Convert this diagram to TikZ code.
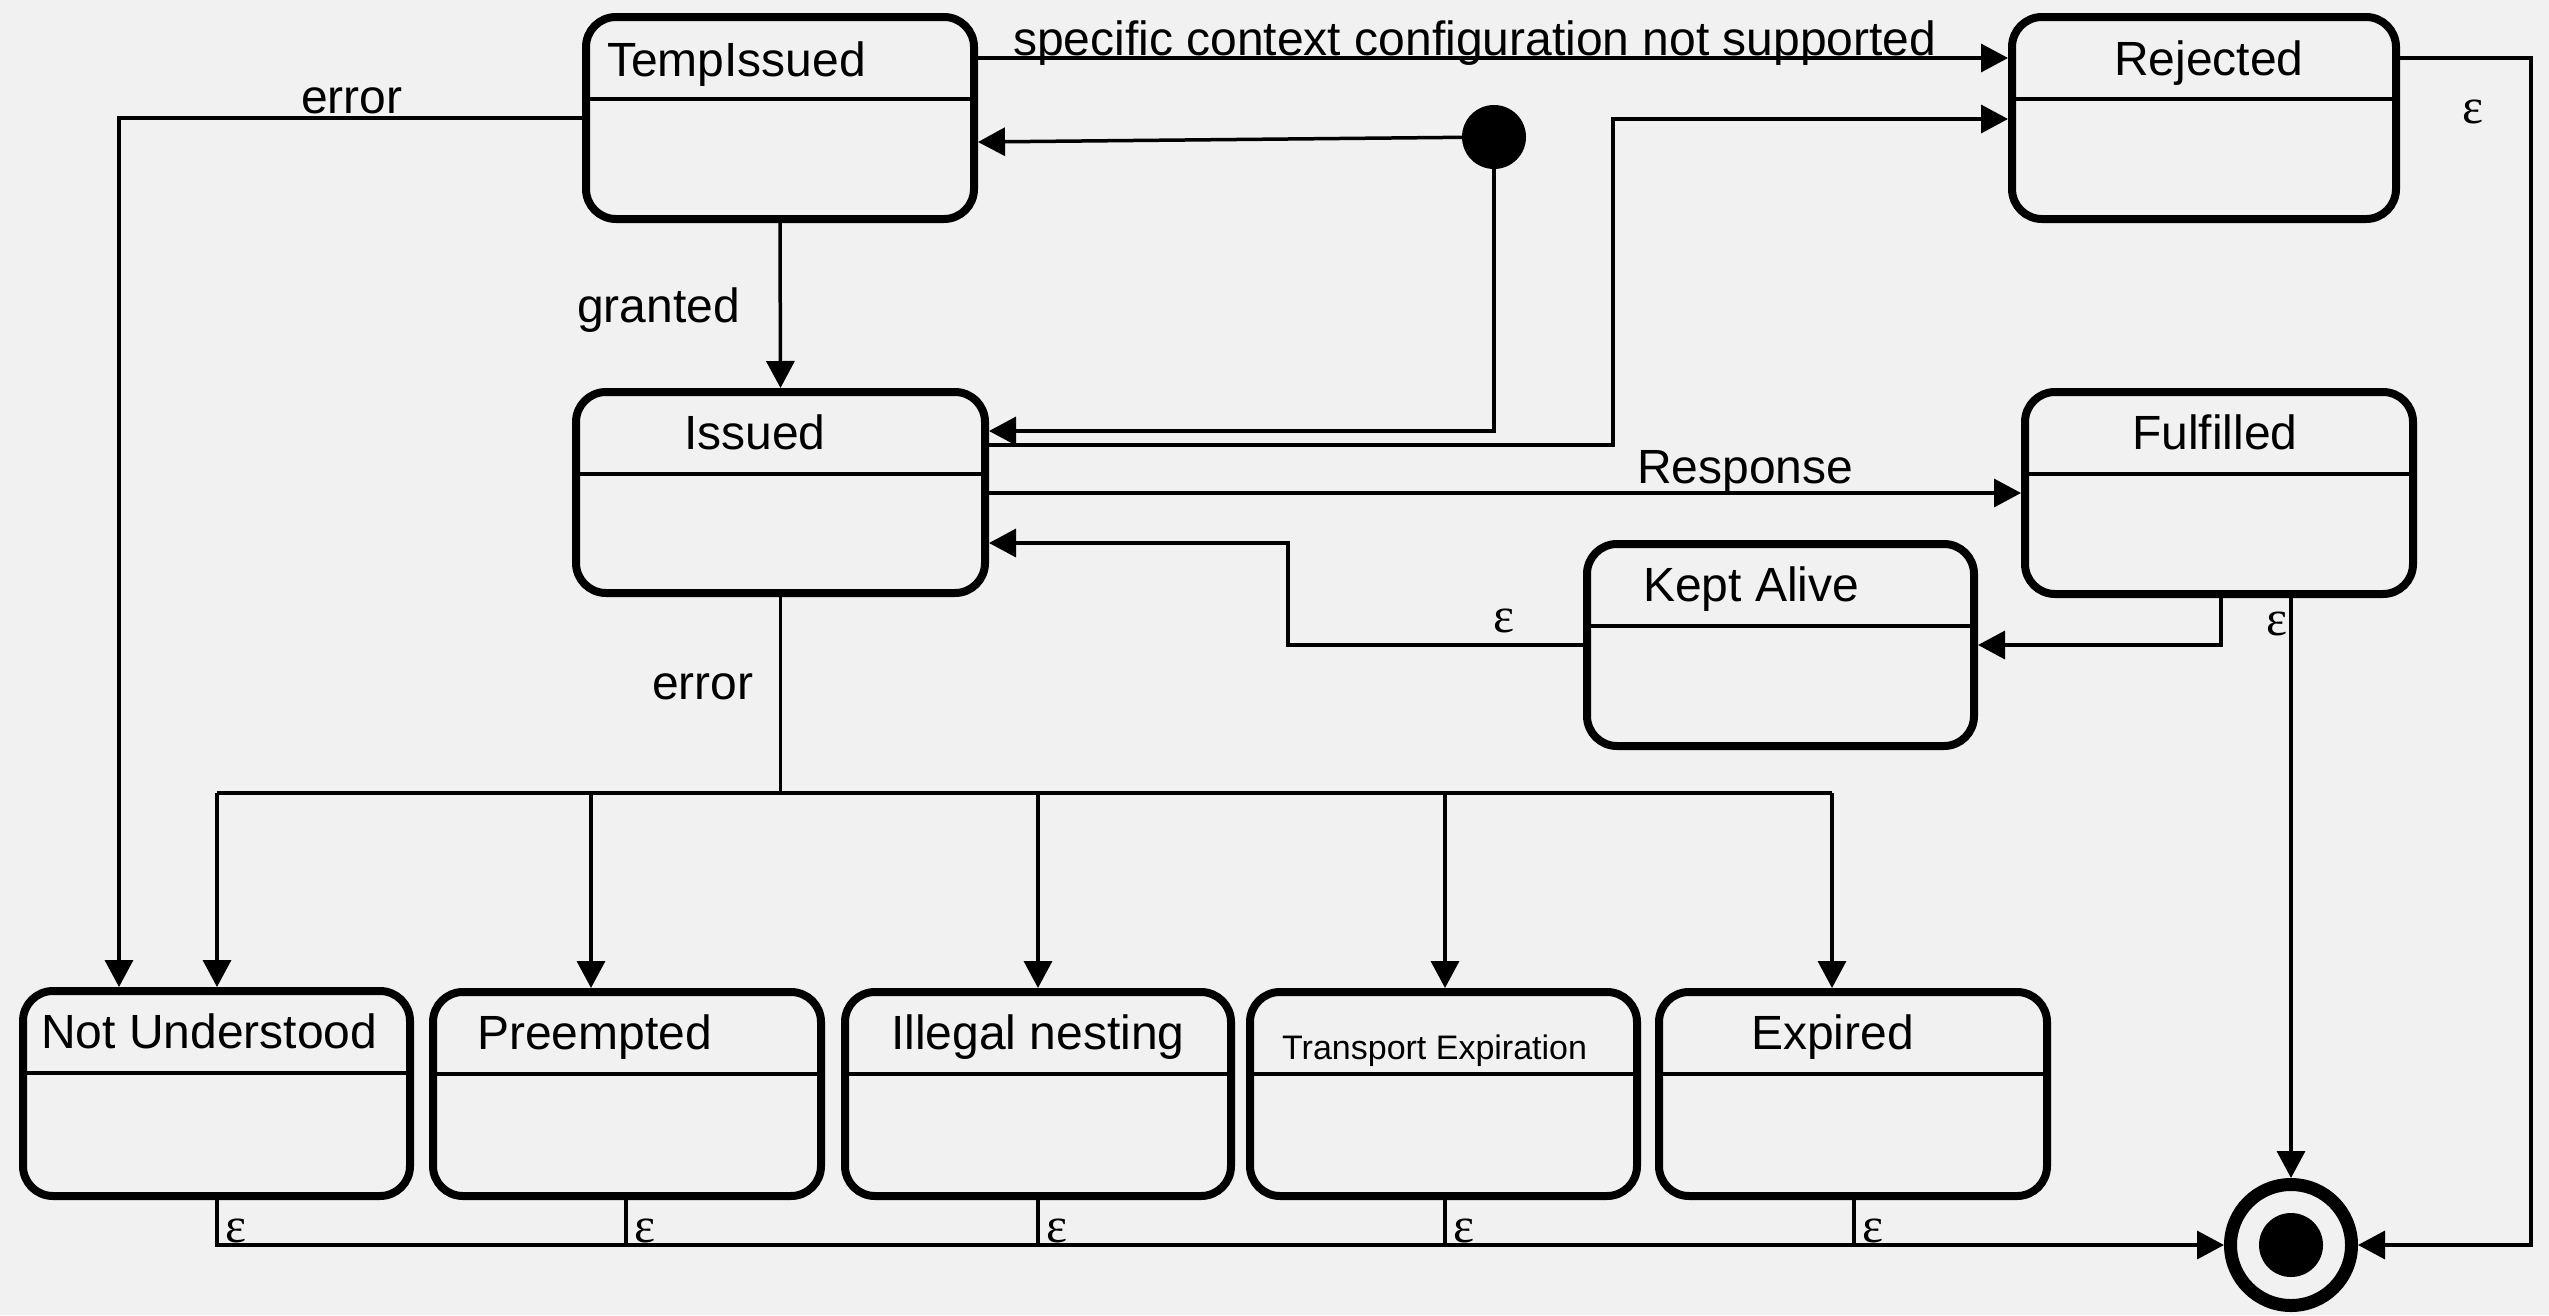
\documentclass[tikz,border=0pt]{standalone}
\usepackage{fontspec}
\setmainfont{Liberation Sans}
\newfontfamily\epsfont{Liberation Serif}
\usetikzlibrary{arrows.meta}
\definecolor{bgc}{RGB}{241,241,241}
\begin{document}
\begin{tikzpicture}[x=1pt,y=-1pt,
 statebox/.style={draw, line width=8pt, rounded corners=30pt, minimum width=388pt, minimum height=202pt, inner sep=0pt},
 divider/.style={line width=3.5pt},
 conn/.style={line width=3.5pt},
 arr/.style={conn, -{Triangle[length=27pt,width=28pt]}},
 lbl/.style={font=\fontsize{48}{58}\selectfont, inner sep=0pt, anchor=base west},
 eps/.style={font=\epsfont\fontsize{50}{60}\selectfont, inner sep=0pt},
]
\fill[bgc] (0,0) rectangle (2549,1315);
\useasboundingbox (0,0) rectangle (2549,1315);

% states
\node[statebox] (temp) at (780,118) {};
\node[statebox, minimum width=384pt] (rej) at (2204,118) {};
\node[statebox, minimum width=409pt, minimum height=201pt] (iss) at (780.5,492.5) {};
\node[statebox] (ful) at (2219,493) {};
\node[statebox, minimum width=387pt] (kept) at (1780.5,645) {};
\node[statebox, minimum width=387pt, minimum height=205pt] (nu) at (216.5,1093.5) {};
\node[statebox, minimum height=204pt] (pre) at (627,1094) {};
\node[statebox, minimum width=386pt, minimum height=204pt] (ill) at (1038,1094) {};
\node[statebox, minimum width=387pt, minimum height=204pt] (tra) at (1443.5,1094) {};
\node[statebox, minimum height=204pt] (exp) at (1853,1094) {};

\foreach \n in {temp,rej,iss,ful,kept,nu,pre,ill,tra,exp}
  \draw[divider] ([yshift=-86pt]\n.north west) -- ([yshift=-86pt]\n.north east);

% titles
\node[lbl] (tTemp) at (607,76) {TempIssued};
\node[lbl] (tRej) at (2114,75) {Rejected};
\node[lbl] (tIss) at (684,449) {Issued};
\node[lbl] (tFul) at (2132,449) {Fulfilled};
\node[lbl] (tKept) at (1643,601) {Kept Alive};
\node[lbl] (tNu) at (41,1048) {Not Understood};
\node[lbl] (tPre) at (477,1049) {Preempted};
\node[lbl] (tIll) at (891,1049) {Illegal nesting};
\node[lbl, font=\fontsize{34}{41}\selectfont] (tTra) at (1282,1059) {Transport Expiration};
\node[lbl] (tExp) at (1751,1049) {Expired};

% initial and final states
\node[circle, fill=black, minimum size=64pt, inner sep=0pt] (dot) at (1494,137) {};
\node[circle, draw, line width=13pt, fill=bgc, minimum size=121pt, inner sep=0pt] (fin) at (2291,1245) {};
\node[circle, fill=black, minimum size=64pt, inner sep=0pt] (finc) at (fin.center) {};

% transitions
\draw[arr] (temp.east |- 0,58) -- (rej.west |- 0,58);
\node[lbl] (lSpec) at (1013,55) {specific context configuration not supported};

\draw[arr] (dot.center) -- (temp.east |- 0,142);
\draw[arr] (dot.south) -- (dot |- 0,431) -- (iss.east |- 0,431);
\draw[arr] (iss.east |- 0,445) -| (1613,119) -- (rej.west |- 0,119);

\draw[arr] (temp.south) -- (iss.north);
\node[lbl] (lGranted) at (577,322) {granted};

\draw[arr] (temp.west |- 0,118) -| (nu.north -| 119,0);
\node[lbl] (lErr1) at (301,113) {error};

\draw[conn] (iss.south) -- (iss.south |- 0,793);
\draw[conn] (217,793) -- (1832,793);
\draw[arr] (217,793) -- (nu.north -| 217,0);
\draw[arr] (591,793) -- (pre.north -| 591,0);
\draw[arr] (1038,793) -- (ill.north -| 1038,0);
\draw[arr] (1445,793) -- (tra.north -| 1445,0);
\draw[arr] (1832,793) -- (exp.north -| 1832,0);
\node[lbl] (lErr2) at (652,699) {error};

\draw[arr] (iss.east |- 0,493) -- (ful.west |- 0,493);
\node[lbl] (lResp) at (1637,483) {Response};

\draw[arr] (kept.west |- 0,645) -| (1288,543) -- (iss.east |- 0,543);
\node[eps] (eKept) at (1504,621) {ε};

\draw[arr] (ful.south -| 2221,0) |- (kept.east |- 0,645);
\draw[arr] (ful.south -| fin) -- (fin.north);
\node[eps] (eFul) at (2277,624) {ε};

\draw[arr] (rej.east |- 0,58) -| (2531,1245) -- (fin.east);
\node[eps] (eRej) at (2473,112) {ε};

\draw[arr] (nu.south -| 217,0) |- (fin.west);
\draw[conn] (pre.south -| 626,0) -- (626,1245);
\draw[conn] (ill.south -| 1038,0) -- (1038,1245);
\draw[conn] (tra.south -| 1445,0) -- (1445,1245);
\draw[conn] (exp.south -| 1854,0) -- (1854,1245);
\node[eps, anchor=base west] (eNu) at (225,1242) {ε};
\node[eps, anchor=base west] (ePre) at (634,1242) {ε};
\node[eps, anchor=base west] (eIll) at (1046,1242) {ε};
\node[eps, anchor=base west] (eTra) at (1453,1242) {ε};
\node[eps, anchor=base west] (eExp) at (1862,1242) {ε};
\end{tikzpicture}
\end{document}
